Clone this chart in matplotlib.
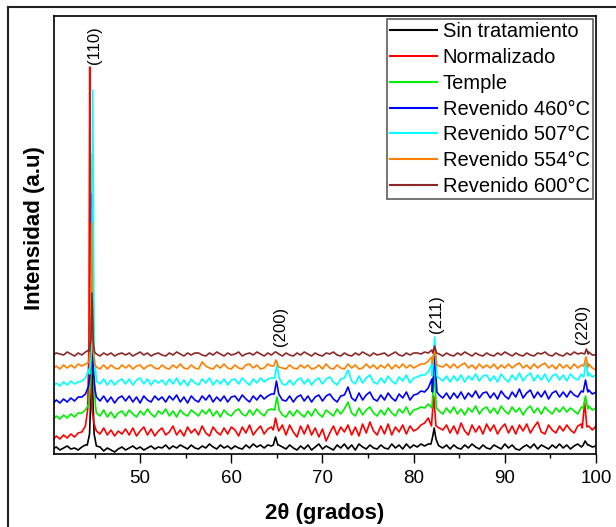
import numpy as np
import matplotlib
matplotlib.use("Agg")
import matplotlib.pyplot as plt
from matplotlib.lines import Line2D

plt.rcParams['font.family'] = ['Liberation Sans', 'DejaVu Sans']

# 2-theta grid of the scans (degrees)
two_theta = np.round(np.arange(40.4, 100.001, 0.4), 2)

# Background intensity of each (vertically offset) diffractogram, a.u.
sin_tratamiento = [
    5, 7, 4, 6, 8, 5, 6, 4, 7, 9,
    12, 9, 5, 7, 3, 6, 4, 2, 5, 7,
    4, 6, 8, 5, 7, 4, 6, 8, 5, 7,
    6, 9, 5, 8, 6, 9, 7, 5, 9, 6,
    5, 8, 6, 10, 7, 5, 9, 6, 8, 5,
    8, 6, 5, 9, 6, 10, 7, 9, 6, 9,
    8, 10, 9, 7, 5, 9, 6, 4, 8, 5,
    9, 4, 7, 10, 5, 8, 6, 4, 9, 6,
    10, 5, 9, 4, 10, 7, 5, 9, 6, 5,
    9, 6, 5, 10, 6, 9, 5, 10, 6, 9,
    7, 10, 8, 10, 12, 10, 8, 6, 9, 5,
    9, 6, 5, 9, 6, 10, 7, 5, 9, 6,
    5, 9, 7, 5, 10, 6, 9, 5, 4, 7,
    9, 6, 10, 5, 9, 7, 5, 9, 6, 10,
    6, 9, 5, 8, 10, 7, 10, 9, 7, 8]
normalizado = [
    14, 18, 15, 19, 16, 20, 17, 21, 22, 26,
    34, 28, 23, 20, 26, 19, 24, 18, 23, 20,
    25, 19, 26, 18, 23, 27, 19, 25, 18, 23,
    26, 19, 22, 28, 19, 24, 18, 27, 21, 25,
    19, 28, 21, 18, 27, 22, 19, 26, 20, 27,
    24, 18, 27, 21, 29, 19, 24, 28, 20, 25,
    27, 31, 23, 29, 19, 29, 22, 17, 28, 20,
    29, 19, 26, 17, 25, 13, 21, 28, 19, 27,
    22, 29, 19, 27, 18, 30, 21, 32, 23, 19,
    28, 20, 30, 19, 27, 22, 29, 20, 28, 23,
    25, 29, 31, 36, 40, 33, 26, 24, 29, 21,
    28, 20, 31, 23, 19, 29, 22, 28, 20, 30,
    23, 29, 20, 26, 30, 21, 28, 20, 29, 23,
    30, 21, 27, 32, 22, 20, 29, 24, 21, 28,
    23, 29, 24, 21, 28, 30, 31, 28, 24, 28]
temple = [
    34, 38, 35, 39, 36, 40, 37, 41, 41, 44,
    50, 45, 41, 38, 44, 37, 42, 36, 41, 43,
    38, 44, 40, 37, 43, 39, 45, 40, 37, 43,
    40, 45, 38, 43, 37, 44, 40, 38, 44, 41,
    38, 44, 40, 45, 38, 43, 37, 44, 40, 38,
    43, 45, 40, 38, 44, 39, 45, 41, 38, 44,
    45, 48, 42, 39, 37, 43, 38, 44, 40, 37,
    43, 38, 45, 40, 37, 44, 41, 38, 45, 40,
    45, 52, 41, 38, 46, 39, 44, 47, 41, 38,
    44, 39, 46, 41, 38, 45, 41, 47, 39, 44,
    45, 47, 46, 50, 58, 48, 43, 40, 46, 41,
    47, 40, 45, 39, 46, 42, 48, 40, 45, 47,
    41, 46, 40, 48, 43, 40, 47, 42, 46, 39,
    45, 48, 41, 46, 40, 47, 43, 40, 46, 42,
    47, 42, 46, 43, 40, 47, 49, 48, 44, 46]
revenido_460 = [
    50, 54, 51, 55, 52, 56, 53, 57, 57, 60,
    70, 62, 57, 53, 58, 52, 57, 51, 56, 58,
    53, 58, 52, 57, 51, 58, 54, 52, 58, 54,
    57, 52, 58, 54, 59, 52, 57, 51, 58, 54,
    52, 58, 54, 59, 52, 57, 53, 58, 52, 57,
    58, 53, 59, 55, 52, 58, 54, 59, 55, 58,
    60, 63, 57, 54, 53, 58, 52, 57, 59, 53,
    58, 52, 57, 59, 53, 58, 60, 55, 52, 58,
    59, 67, 56, 53, 61, 54, 59, 62, 55, 53,
    59, 54, 61, 56, 53, 60, 56, 62, 54, 59,
    60, 63, 62, 66, 75, 64, 59, 56, 61, 55,
    61, 56, 62, 55, 61, 57, 63, 56, 61, 62,
    56, 61, 55, 63, 58, 55, 62, 57, 65, 56,
    61, 64, 56, 62, 57, 63, 55, 61, 63, 57,
    62, 57, 63, 59, 57, 63, 65, 64, 60, 62]
revenido_507 = [
    67, 71, 68, 72, 69, 73, 70, 72, 73, 76,
    85, 78, 73, 70, 75, 69, 74, 69, 73, 75,
    70, 75, 69, 74, 76, 70, 75, 69, 74, 71,
    74, 69, 75, 70, 76, 69, 74, 68, 75, 71,
    69, 75, 71, 76, 69, 74, 70, 75, 69, 74,
    75, 70, 76, 72, 69, 75, 71, 76, 72, 75,
    76, 79, 73, 70, 69, 74, 69, 74, 76, 70,
    75, 69, 74, 76, 70, 75, 77, 72, 69, 75,
    76, 84, 73, 70, 78, 71, 76, 79, 72, 70,
    76, 71, 78, 73, 70, 77, 73, 79, 71, 76,
    77, 79, 79, 82, 90, 80, 76, 73, 78, 72,
    78, 73, 79, 72, 78, 74, 80, 73, 78, 79,
    73, 78, 72, 80, 75, 72, 79, 74, 81, 73,
    78, 81, 73, 79, 74, 80, 72, 78, 80, 74,
    79, 73, 80, 76, 74, 80, 82, 81, 77, 79]
revenido_554 = [
    85, 88, 85, 89, 86, 89, 86, 90, 88, 90,
    96, 92, 87, 85, 89, 85, 89, 86, 85, 89,
    86, 89, 85, 88, 89, 85, 88, 89, 86, 85,
    89, 86, 85, 89, 86, 90, 86, 85, 89, 86,
    85, 92, 88, 86, 85, 89, 86, 90, 86, 85,
    89, 86, 85, 89, 90, 86, 89, 85, 86, 90,
    88, 90, 87, 86, 85, 89, 86, 85, 89, 86,
    89, 85, 86, 89, 85, 90, 86, 85, 89, 86,
    85, 90, 86, 89, 85, 86, 90, 86, 89, 85,
    89, 86, 90, 85, 89, 86, 90, 86, 89, 86,
    88, 90, 90, 93, 97, 92, 88, 87, 90, 86,
    90, 86, 89, 91, 86, 89, 85, 90, 86, 89,
    86, 90, 85, 89, 86, 90, 86, 89, 91, 86,
    89, 85, 90, 86, 89, 91, 86, 89, 85, 90,
    86, 89, 85, 90, 86, 89, 91, 90, 86, 84]
revenido_600 = [
    99, 101, 100, 99, 102, 100, 98, 101, 99, 102,
    104, 102, 100, 98, 101, 99, 101, 98, 100, 101,
    99, 101, 98, 100, 102, 99, 101, 98, 100, 101,
    99, 98, 101, 99, 102, 100, 98, 101, 99, 101,
    101, 99, 98, 101, 99, 102, 100, 98, 101, 99,
    100, 102, 98, 100, 101, 99, 102, 100, 98, 101,
    99, 102, 100, 98, 101, 99, 98, 101, 99, 102,
    100, 98, 101, 99, 98, 101, 100, 102, 99, 98,
    101, 99, 98, 101, 99, 102, 100, 98, 101, 99,
    100, 101, 98, 100, 102, 99, 98, 101, 99, 101,
    101, 100, 102, 101, 104, 102, 100, 98, 101, 99,
    98, 101, 99, 102, 100, 98, 101, 99, 98, 101,
    99, 98, 101, 99, 102, 100, 98, 101, 99, 98,
    101, 99, 98, 101, 100, 102, 99, 98, 101, 99,
    98, 101, 99, 102, 100, 101, 103, 102, 99, 99]

# Diffraction peaks of each scan: (2-theta, intensity) points across each reflection
picos_sin_tratamiento = [
    [(44.2, 9), (44.45, 20), (44.6, 60), (44.7, 160), (44.8, 60), (44.95, 20), (45.2, 8)],
    [(64.6, 9), (64.85, 17), (65.1, 9)],
    [(81.9, 10), (82.1, 18), (82.25, 26), (82.45, 15), (82.7, 9)],
    [(98.6, 9), (98.8, 13), (99.1, 9)]]
picos_normalizado = [
    [(44.0, 28), (44.25, 45), (44.38, 110), (44.47, 387), (44.56, 110), (44.7, 45), (44.95, 30)],
    [(64.6, 24), (64.85, 36), (65.1, 26)],
    [(81.95, 28), (82.2, 58), (82.45, 28)],
    [(98.5, 26), (98.75, 52), (99.0, 27)]]
picos_temple = [
    [(44.4, 50), (44.6, 80), (44.75, 300), (44.9, 80), (45.1, 48)],
    [(64.75, 44), (65.0, 57), (65.25, 44)],
    [(82.0, 46), (82.25, 80), (82.5, 46)],
    [(98.6, 46), (98.85, 58), (99.1, 45)]]
picos_revenido_460 = [
    [(44.35, 68), (44.55, 85), (44.7, 260), (44.85, 85), (45.05, 64)],
    [(64.7, 60), (64.95, 73), (65.2, 60)],
    [(82.05, 62), (82.3, 99), (82.55, 62)],
    [(98.6, 62), (98.85, 74), (99.1, 62)]]
picos_revenido_507 = [
    [(44.45, 80), (44.65, 100), (44.8, 364), (44.95, 100), (45.15, 80)],
    [(64.75, 76), (65.0, 89), (65.25, 76)],
    [(82.05, 78), (82.3, 117), (82.55, 78)],
    [(98.65, 77), (98.9, 91), (99.15, 78)]]
picos_revenido_554 = [
    [(44.4, 92), (44.55, 110), (44.68, 231), (44.8, 110), (45.0, 90)],
    [(64.65, 88), (64.9, 94), (65.15, 88)],
    [(82.05, 90), (82.3, 107), (82.55, 89)],
    [(98.65, 88), (98.9, 97), (99.15, 87)]]
picos_revenido_600 = [
    [(44.45, 103), (44.6, 115), (44.72, 161), (44.85, 112), (45.0, 102)],
    [(64.9, 102)],
    [(82.1, 101), (82.3, 108), (82.5, 101)],
    [(98.75, 100), (98.95, 105), (99.15, 100)]]

etiquetas = ["Sin tratamiento", "Normalizado", "Temple", "Revenido 460°C",
             "Revenido 507°C", "Revenido 554°C", "Revenido 600°C"]
fondos = [sin_tratamiento, normalizado, temple, revenido_460,
          revenido_507, revenido_554, revenido_600]
picos = [picos_sin_tratamiento, picos_normalizado, picos_temple, picos_revenido_460,
         picos_revenido_507, picos_revenido_554, picos_revenido_600]
colores = ["#000000", "#FF0000", "#00EE00", "#0000FF", "#00FFFF", "#FF8000", "#8C2828"]

# Miller indices of the ferrite reflections and where their labels sit
indices = ["(110)", "(200)", "(211)", "(220)"]
pos_indices = [(44.95, 390), (65.35, 108), (82.5, 121), (98.5, 110)]


def combinar(fondo, grupos):
    x = np.asarray(two_theta, dtype=float)
    y = np.asarray(fondo, dtype=float)
    keep = np.ones_like(x, dtype=bool)
    px, py = [], []
    for g in grupos:
        gx = [p[0] for p in g]
        gy = [p[1] for p in g]
        keep &= ~((x >= min(gx) - 0.01) & (x <= max(gx) + 0.01))
        px += gx
        py += gy
    xx = np.concatenate([x[keep], px])
    yy = np.concatenate([y[keep], py])
    order = np.argsort(xx)
    return xx[order], yy[order]


W, H = 616, 527
fig = plt.figure(figsize=(W / 100, H / 100), dpi=100)
ax = fig.add_axes([54 / W, 73 / H, 542 / W, 438 / H])

for fondo, grupo, color, etiqueta in zip(fondos, picos, colores, etiquetas):
    xs, ys = combinar(fondo, grupo)
    ax.plot(xs, ys, color=color, lw=1.2, label=etiqueta)

for texto, (xt, yt) in zip(indices, pos_indices):
    ax.text(xt, yt, texto, rotation=90, ha="center", va="bottom", fontsize=12)

ax.set_xlim(40.55, 100)
ax.set_ylim(0, 438)
ax.set_xticks([50, 60, 70, 80, 90, 100])
ax.set_xticks([45, 55, 65, 75, 85, 95], minor=True)
ax.set_yticks([])
ax.tick_params(axis="x", which="major", direction="out", length=6.5, width=1.0,
               labelsize=13.5, pad=5)
ax.tick_params(axis="x", which="minor", direction="out", length=3, width=1.0)
for sp in ax.spines.values():
    sp.set_linewidth(1.2)

leg = ax.legend(loc="upper right", fontsize=14.5, frameon=True, fancybox=False,
                borderaxespad=0.15, borderpad=0.15, labelspacing=0.34,
                handlelength=2.3, handletextpad=0.3)
leg.get_frame().set_edgecolor("#333333")
leg.get_frame().set_linewidth(1.2)
for h in leg.get_lines():
    h.set_linewidth(1.5)

fig.text(325 / W, 1 - 514 / H, "2θ (grados)", ha="center", va="center",
         fontsize=16, fontweight="bold")
fig.text(34.6 / W, 1 - 228 / H, "Intensidad (a.u)", ha="center", va="center",
         rotation=90, fontsize=16, fontweight="bold")

# Outer frame around the whole figure
fig.add_artist(Line2D([8 / W, 8 / W], [0, 1 - 7 / H], transform=fig.transFigure,
                      color="#222222", lw=1.5))
fig.add_artist(Line2D([8 / W, 1], [1 - 7 / H, 1 - 7 / H], transform=fig.transFigure,
                      color="#222222", lw=1.5))

fig.savefig("out.png", dpi=100)
